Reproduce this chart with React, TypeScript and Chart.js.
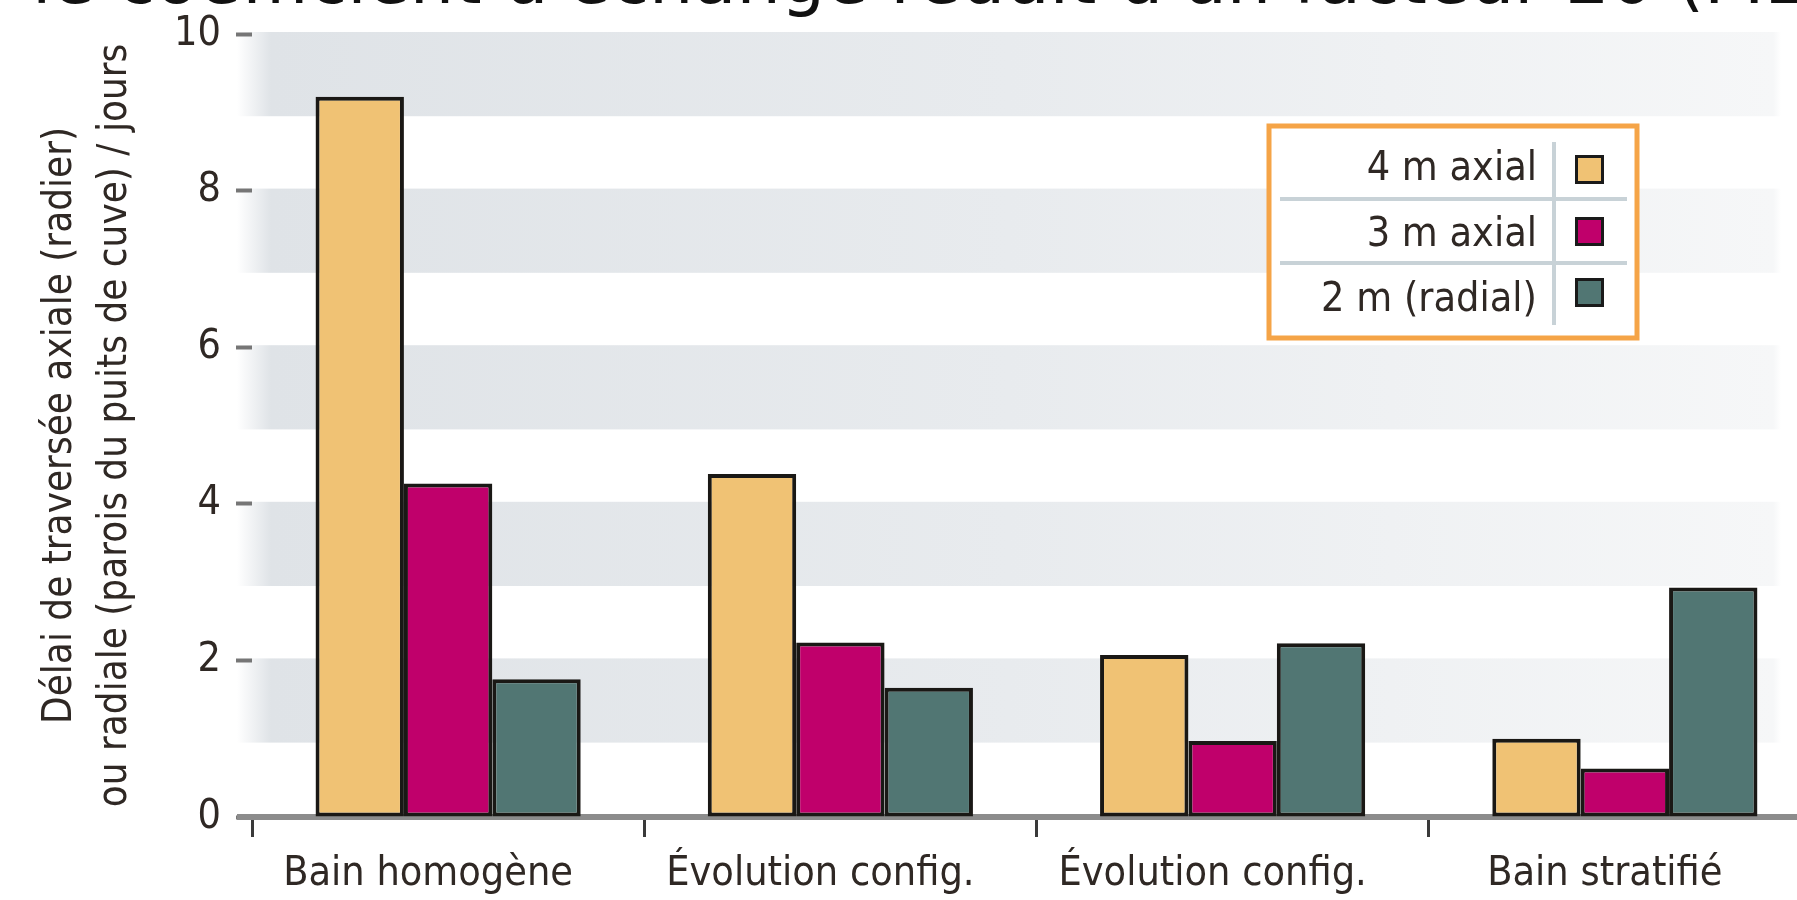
import React, { useEffect, useRef } from 'react';
import { Chart, registerables } from 'chart.js';

Chart.register(...registerables);

// ---- data ----
const categories = ['Bain homogène', 'Évolution config.', 'Évolution config.', 'Bain stratifié'];
const seriesLabels = ['4 m axial', '3 m axial', '2 m (radial)'];
const axial4m = [9.2, 4.38, 2.07, 1.0];
const axial3m = [4.26, 2.23, 0.97, 0.62];
const radial2m = [1.76, 1.65, 2.22, 2.93];
const seriesColors = ['#f0c274', '#c0006b', '#517673'];
const yMin = 0;
const yMax = 10;
const yStep = 2;
const shadedBandTops = [10, 8, 6, 4, 2];
const yTitle = ['Délai de traversée axiale (radier)', 'ou radiale (parois du puits de cuve) / jours'];
const headline = "le coefficient d'échange réduit d'un facteur 20 (MERCOR)";

const FONT = "'DejaVu Sans Condensed', 'Liberation Sans Narrow', 'DejaVu Sans', sans-serif";
const TEXT = '#2f2824';

const bandsPlugin = {
  id: 'bands',
  beforeDraw(chart: any) {
    const { ctx, chartArea, scales } = chart;
    const y = scales.y;
    const x0 = chartArea.left - 15;
    const x1 = 1781;
    const g = ctx.createLinearGradient(x0, 0, x1, 0);
    g.addColorStop(0, '#ffffff');
    g.addColorStop(0.022, '#dfe3e7');
    g.addColorStop(0.5, '#e8ebee');
    g.addColorStop(0.995, '#f6f7f8');
    g.addColorStop(1, '#ffffff');
    ctx.save();
    // headline (cut off at the top of the picture)
    ctx.font = "70px 'DejaVu Sans', sans-serif";
    ctx.fillStyle = '#111111';
    ctx.textBaseline = 'alphabetic';
    ctx.textAlign = 'left';
    ctx.fillText(headline, 32, 3);
    ctx.fillStyle = g;
    shadedBandTops.forEach((v) => {
      const top = y.getPixelForValue(v) - 2;
      const bottom = y.getPixelForValue(v - 1.05);
      ctx.fillRect(x0, top, x1 - x0, bottom - top);
    });
    ctx.restore();
  },
  beforeDatasetsDraw(chart: any) {
    const { ctx, chartArea, scales } = chart;
    const y0 = scales.y.getPixelForValue(0);
    ctx.save();
    ctx.strokeStyle = '#8c8c8c';
    ctx.lineWidth = 6;
    ctx.beginPath();
    ctx.moveTo(chartArea.left - 15, y0);
    ctx.lineTo(chart.width, y0);
    ctx.stroke();
    ctx.restore();
  },
  afterDraw(chart: any) {
    const { ctx } = chart;
    const l = 1269, t = 126, r = 1637, b = 338;
    ctx.save();
    ctx.fillStyle = '#ffffff';
    ctx.fillRect(l, t, r - l, b - t);
    ctx.strokeStyle = '#f5a447';
    ctx.lineWidth = 5;
    ctx.strokeRect(l, t, r - l, b - t);
    ctx.strokeStyle = '#c8d2d7';
    ctx.lineWidth = 4;
    ctx.beginPath();
    [199, 263].forEach((yy) => {
      ctx.moveTo(1280, yy);
      ctx.lineTo(1627, yy);
    });
    ctx.moveTo(1554, 142);
    ctx.lineTo(1554, 325);
    ctx.stroke();
    const baselines = [180, 246, 311];
    const swatchTops = [155, 217, 278];
    chart.data.datasets.forEach((ds: any, i: number) => {
      ctx.font = `41px ${FONT}`;
      ctx.fillStyle = TEXT;
      ctx.textAlign = 'right';
      ctx.textBaseline = 'alphabetic';
      ctx.fillText(ds.label, 1537, baselines[i]);
      ctx.fillStyle = ds.backgroundColor;
      ctx.fillRect(1575, swatchTops[i], 29, 29);
      ctx.strokeStyle = '#1a1a1a';
      ctx.lineWidth = 3;
      ctx.strokeRect(1576.5, swatchTops[i] + 1.5, 26, 26);
    });
    ctx.restore();
  },
};

export default function App() {
  const ref = useRef<HTMLCanvasElement | null>(null);
  useEffect(() => {
    if (!ref.current) return;
    const values = [axial4m, axial3m, radial2m];
    const chart = new Chart(ref.current, {
      type: 'bar',
      data: {
        labels: categories,
        datasets: seriesLabels.map((label, i) => ({
          label,
          data: values[i],
          backgroundColor: seriesColors[i],
          borderColor: '#1a1815',
          borderWidth: 4,
          borderSkipped: false,
          categoryPercentage: 0.676,
          barPercentage: 1.0,
        })),
      },
      plugins: [bandsPlugin],
      options: {
        responsive: false,
        animation: false,
        devicePixelRatio: 1,
        layout: { padding: { top: 34, right: 20, bottom: 0, left: 0 } },
        plugins: { legend: { display: false }, tooltip: { enabled: false }, title: { display: false } },
        scales: {
          x: {
            border: { display: false },
            grid: {
              display: true,
              offset: true,
              drawOnChartArea: false,
              drawTicks: true,
              tickLength: 20,
              tickColor: '#3a3a3a',
              tickWidth: 3,
            },
            ticks: {
              color: TEXT,
              font: { family: FONT, size: 41 },
              padding: 13,
              labelOffset: -20,
              maxRotation: 0,
              autoSkip: false,
            },
            afterFit(scale: any) {
              scale.height = 83;
            },
          },
          y: {
            min: yMin,
            max: yMax,
            border: { display: false },
            grid: {
              drawOnChartArea: false,
              drawTicks: true,
              tickLength: 16,
              tickColor: '#767676',
              tickWidth: 4,
            },
            ticks: {
              stepSize: yStep,
              color: TEXT,
              font: { family: FONT, size: 41 },
              padding: 15,
            },
            title: {
              display: true,
              text: yTitle,
              color: TEXT,
              font: { family: FONT, size: 40, lineHeight: 1.375 },
              padding: { top: 33, bottom: 0 },
            },
            afterFit(scale: any) {
              scale.width = 252;
              scale.paddingTop = 0;
              scale.paddingBottom = 0;
            },
          },
        },
      },
    });
    return () => chart.destroy();
  }, []);
  return (
    <div style={{ position: 'fixed', left: 0, top: 0, width: 1797, height: 900, overflow: 'hidden', background: '#ffffff' }}>
      <canvas ref={ref} width={1841} height={900} style={{ display: 'block' }} />
    </div>
  );
}
